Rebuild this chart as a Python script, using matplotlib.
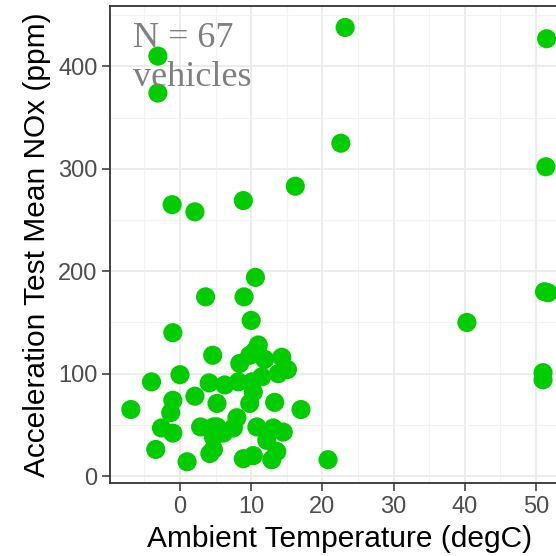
import matplotlib
matplotlib.use("Agg")
import matplotlib.pyplot as plt
from matplotlib.ticker import MultipleLocator

plt.rcParams['font.family'] = ['Liberation Sans', 'DejaVu Sans']

# ambient temperature (degC) and mean NOx (ppm)
temp_c = [-3.1, -3.1, 23.2, 51.5, 22.6, 51.4, 16.2, -1.1, 2.1, 8.9,
          10.6, 3.6, 9.0, 10.0, -1.0, 40.3, 51.2, 51.7, 51.0, 51.0,
          20.8, 17.0, 4.6, -4.0, 0.0, 4.1, 2.1, -1.0, 5.2, -6.9,
          -1.3, -2.6, -1.0, 2.9, -3.4, 1.0, 4.2, 4.7, 11.0, 8.4,
          9.8, 11.9, 14.3, 15.1, 13.8, 6.3, 8.2, 10.1, 10.3, 9.8,
          13.3, 8.0, 4.7, 6.1, 10.8, 13.1, 14.5, 12.2, 4.7, 8.9,
          10.3, 12.9, 13.6, 5.2, 10.5, 7.5, 11.5]
nox_ppm = [410, 374, 438, 427, 325, 302, 283, 265, 258, 269,
           194, 175, 175, 152, 140, 150, 180, 179, 101, 94,
           16, 65, 118, 92, 99, 91, 78, 74, 71, 65,
           62, 47, 42, 48, 26, 14, 22, 38, 128, 110,
           118, 114, 116, 104, 100, 89, 92, 92, 82, 71,
           72, 57, 48, 42, 48, 47, 43, 35, 26, 17,
           20, 16, 24, 48, 122, 47, 97]

fig = plt.figure(figsize=(5.56, 5.56), dpi=100)
ax = fig.add_axes([0.1978, 0.1308, 0.825, 0.8585])

ax.scatter(temp_c, nox_ppm, s=190, color="#00CC00", edgecolors="none", zorder=3)

ax.set_xlim(-9.83, 54.6)
ax.set_ylim(-7.0, 459.0)
ax.xaxis.set_major_locator(MultipleLocator(10))
ax.xaxis.set_minor_locator(MultipleLocator(5))
ax.yaxis.set_major_locator(MultipleLocator(100))
ax.yaxis.set_minor_locator(MultipleLocator(50))

ax.grid(which="major", color="#EBEBEB", linewidth=1.3, zorder=0)
ax.grid(which="minor", color="#F2F2F2", linewidth=0.8, zorder=0)
ax.set_axisbelow(True)

for sp in ax.spines.values():
    sp.set_color("#333333")
    sp.set_linewidth(1.3)

ax.tick_params(which="major", length=6, width=1.1, color="#333333",
               labelsize=17, labelcolor="#4D4D4D", pad=3)
ax.tick_params(which="minor", length=0)

ax.set_xlabel("Ambient Temperature (degC)", fontsize=21.5, color="black", labelpad=5)
ax.set_ylabel("Acceleration Test Mean NOx (ppm)", fontsize=21.5, color="black", labelpad=5)

ax.text(-6.6, 443, "N = 67\nvehicles", fontsize=26, color="#808080",
        family="Liberation Serif", va="top", ha="left", linespacing=1.22)

fig.savefig("out.png", dpi=100)
